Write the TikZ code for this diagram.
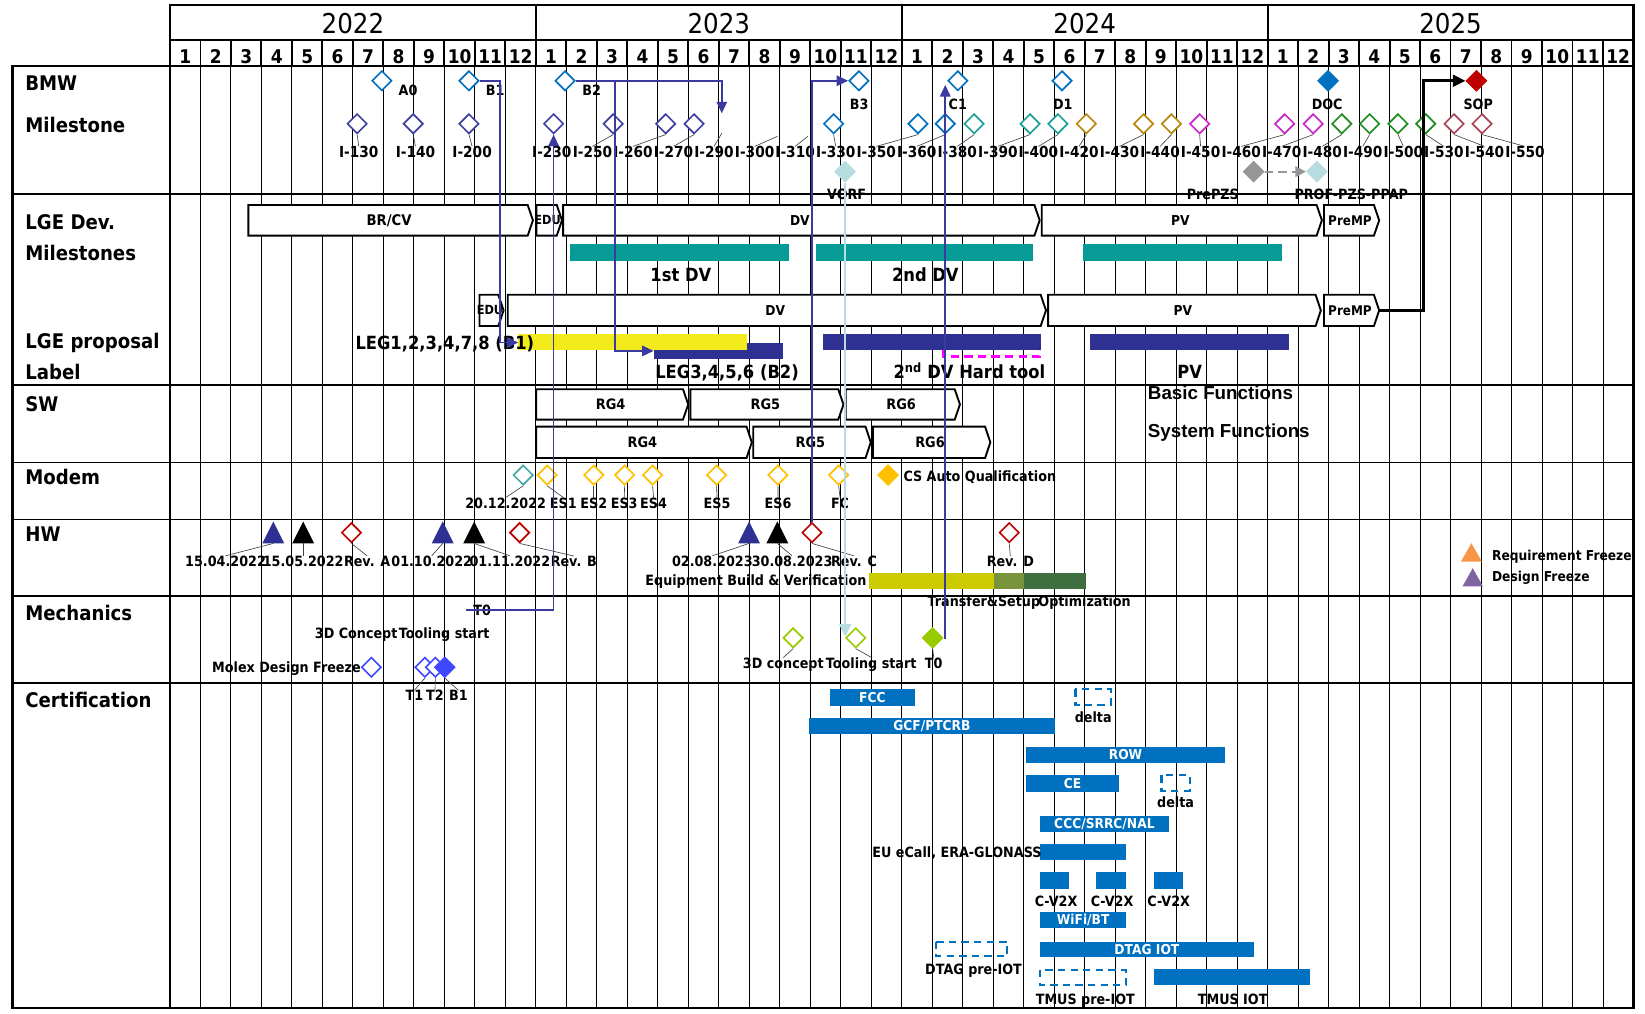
\documentclass[tikz,border=0pt]{standalone}
\usepackage{fontspec}
\setmainfont{DejaVu Sans}[FakeStretch=0.9]
\newfontfamily\arialb{Liberation Sans}
\usetikzlibrary{shapes.geometric,arrows.meta}
\newcommand\fs[1]{\fontsize{#1}{#1}\selectfont}
\definecolor{plc}{RGB}{58,58,160}
\definecolor{navyb}{RGB}{46,49,146}
\definecolor{msblue}{RGB}{0,112,192}
\definecolor{mspur}{RGB}{64,64,160}
\definecolor{msteal}{RGB}{26,160,150}
\definecolor{msgold}{RGB}{184,134,11}
\definecolor{msmag}{RGB}{200,40,200}
\definecolor{msgreen}{RGB}{30,140,30}
\definecolor{msrose}{RGB}{170,70,90}
\definecolor{tealbar}{RGB}{6,156,149}
\definecolor{ylw}{RGB}{242,234,26}
\definecolor{mdteal}{RGB}{75,168,168}
\definecolor{amber}{RGB}{255,192,0}
\definecolor{dred}{RGB}{192,0,0}
\definecolor{olivey}{RGB}{204,204,0}
\definecolor{oliveg}{RGB}{119,147,60}
\definecolor{dgreen}{RGB}{63,111,63}
\definecolor{orng}{RGB}{247,150,70}
\definecolor{lpur}{RGB}{128,100,162}
\definecolor{mechb}{RGB}{64,72,255}
\definecolor{lgreen}{RGB}{153,204,0}
\definecolor{lblue}{RGB}{183,221,224}
\definecolor{gry}{RGB}{150,150,150}
\definecolor{mag}{RGB}{255,0,255}
\definecolor{certb}{RGB}{0,112,192}
\tikzset{
 gridl/.style={line width=0.9pt},
 hdrl/.style={line width=1.8pt},
 rowl/.style={line width=1.5pt},
 outl/.style={line width=2.2pt},
 yr/.style={font=\fs{26}, anchor=base, inner sep=0pt},
 mon/.style={font=\fs{18}\bfseries, anchor=base, inner sep=0pt},
 cat/.style={font=\fs{19.2}\bfseries, anchor=base west, inner sep=0pt},
 lab/.style={font=\fs{13.5}\bfseries, anchor=base, inner sep=0pt},
 labw/.style={lab, anchor=base west},
 labe/.style={lab, anchor=base east},
 ilab/.style={font=\fs{14.5}\bfseries, anchor=base, inner sep=0pt},
 mid/.style={font=\fs{17.3}\bfseries, anchor=base, inner sep=0pt},
 sysf/.style={font=\arialb\bfseries\fs{17.9}, anchor=base west, inner sep=0pt},
 dm/.style={diamond, draw=#1, line width=1.6pt, fill=white, minimum width=19pt, minimum height=19pt, inner sep=0pt},
 dmf/.style={diamond, draw=#1, fill=#1, line width=0.8pt, minimum width=20pt, minimum height=20pt, inner sep=0pt},
 leader/.style={line width=0.6pt, black!75},
 chevst/.style={line width=1.8pt, fill=white, line join=miter},
 ctext/.style={font=\fs{13}\bfseries, text=white, inner sep=0pt},
 cdash/.style={draw=certb, line width=2.2pt, dash pattern=on 7pt off 5pt},
 pline/.style={line width=1.6pt, draw=plc, -{Triangle[length=11pt,width=10pt]}},
 lbline/.style={line width=2.4pt, draw=lblue, -{Triangle[length=12pt,width=11pt]}},
 bline/.style={line width=2.8pt, draw=black, -{Triangle[length=12pt,width=11pt]}},
 gline/.style={line width=2pt, draw=gry, dash pattern=on 8pt off 5pt, -{Triangle[length=10pt,width=10pt]}},
}
\newcommand\chev[7]{%
 \draw[chevst] (#1,#3) -- ({#2-5},#3) -- (#2,{(#3+#4)/2}) -- ({#2-5},#4) -- (#1,#4) -- cycle;
 \node[font=\fs{#7}\bfseries, inner sep=0pt] (#5) at ({(#1+#2-3)/2},{(#3+#4)/2}) {#6};}
\newcommand\cbar[6]{%
 \fill[certb] (#1,#3) rectangle (#2,#4);
 \node[ctext] (#5) at ({(#1+#2)/2},{(#3+#4)/2}) {#6};}
\newcommand\tri[4]{%
 \fill[#1] ({#2-10.5},#3) -- ({#2+10.5},#3) -- (#2,{#3-21}) -- cycle;
 \coordinate (#4) at (#2,#3);}
\begin{document}
\begin{tikzpicture}[x=1pt,y=-1pt]
\useasboundingbox (0,0) rectangle (1568,966);
\fill[white] (0,0) rectangle (1568,966);
% ---------- grid ----------
\foreach \m in {1,...,47} \draw[gridl] ({162+\m*29.0625},63) -- ({162+\m*29.0625},961);
\foreach \m in {1,...,47} \draw[hdrl] ({162+\m*29.0625},38) -- ({162+\m*29.0625},63);
\foreach \k in {1,2,3} \draw[hdrl] ({162+\k*348.75},5) -- ({162+\k*348.75},38);
\draw[outl] (162,5) rectangle (1557,63);
\draw[hdrl] (162,38) -- (1557,38);
\foreach \k/\yy in {0/2022,1/2023,2/2024,3/2025} \node[yr] (yr\yy) at ({162+\k*348.75+174.4},31.8) {\yy};
\foreach \m in {0,...,47} {\pgfmathtruncatemacro\mm{mod(\m,12)+1}\node[mon] (mo\m) at ({162+(\m+0.5)*29.0625},60.4) {\mm};}
\foreach \yy in {185,367,441,495,568,651} \draw[rowl] (12,\yy) -- (1557,\yy);
\draw[outl] (12,63) rectangle (1557,961);
\draw[outl] (162,63) -- (162,961);
% ---------- category labels ----------
\node[cat] (cbmw) at (24,85.8) {BMW};
\node[cat] (cms) at (24,126.5) {Milestone};
\node[cat] (clge) at (24,218.5) {LGE Dev.};
\node[cat] (clgem) at (24,247.9) {Milestones};
\node[cat] (clgep) at (24,332) {LGE proposal};
\node[cat] (clab) at (24,361.6) {Label};
\node[cat] (csw) at (24,392.4) {SW};
\node[cat] (cmod) at (24,461.4) {Modem};
\node[cat] (chw) at (24,516) {HW};
\node[cat] (cmech) at (24,591) {Mechanics};
\node[cat] (ccert) at (24,674) {Certification};
% ---------- BMW milestones ----------
\node[dm=msblue] (A0) at (364,77) {};
\node[dm=msblue] (B1) at (447,77) {};
\node[dm=msblue] (B2) at (538.6,77) {};
\node[dm=msblue] (B3) at (818.7,77) {};
\node[dm=msblue] (C1) at (913,77) {};
\node[dm=msblue] (D1) at (1012.3,77) {};
\node[dmf=msblue] (DOC) at (1265.9,77) {};
\node[dmf=dred] (SOP) at (1407.3,77) {};
\node[lab] (tA0) at (389,91) {A0};
\node[lab] (tB1) at (472,91) {B1};
\node[lab] (tB2) at (564,91) {B2};
\node[lab] (tB3) at (819,104.5) {B3};
\node[lab] (tC1) at (913,104.5) {C1};
\node[lab] (tD1) at (1013,104.5) {D1};
\node[lab] (tDOC) at (1265,104.5) {DOC};
\node[lab] (tSOP) at (1409,104.5) {SOP};
\foreach \n/\dx/\lx/\cl in {130/340.4/342/mspur, 140/393.9/396/mspur, 200/447/450/mspur,
  230/527.7/526/mspur, 250/584.5/564.7/mspur, 260/634.5/603.3/mspur, 270/661.6/642/mspur,
  330/794.6/796.6/msblue, 350/875/835.2/msblue, 360/901/873.9/msblue,
  380/928.5/912.5/msteal, 390/981.8/951.2/msteal, 400/1008.4/989.8/msteal,
  420/1035.5/1028.5/msgold, 430/1090/1067.1/msgold, 440/1116.6/1105.8/msgold,
  450/1143.5/1144.4/msmag, 460/1224.5/1183.1/msmag, 470/1251.7/1221.7/msmag,
  480/1279/1260.4/msgreen, 490/1305.5/1299/msgreen, 500/1332.5/1337.7/msgreen, 530/1359/1376.3/msgreen,
  540/1386/1415/msrose, 550/1412.7/1453.6/msrose}
{\node[dm=\cl] (i\n) at (\dx,118) {};
 \node[ilab] (l\n) at (\lx,150.5) {I-\n};
 \draw[leader] (l\n.north) -- (i\n.south);}
\coordinate (i290) at (688,127);
\coordinate (i300) at (741,130);
\coordinate (i310) at (770,130);
\foreach \n/\lx in {290/680.6, 300/719.3, 310/757.9}
{\node[ilab] (l\n) at (\lx,150.5) {I-\n};
 \draw[leader] (l\n.north) -- (i\n);}
\node[dmf=lblue] (vorf) at (805.6,163.6) {};
\node[lab] (tvorf) at (807,190) {VORF};
\node[dmf=gry] (gdm) at (1195,163.6) {};
\node[dmf=lblue] (lbd) at (1255.2,163.6) {};
\node[lab] (tprepzs) at (1156,190) {PrePZS};
\node[lab] (tprof) at (1288,190) {PROF-PZS-PPAP};
% ---------- LGE Dev milestones ----------
\chev{236.7}{508}{195.4}{224.6}{brcv}{BR/CV}{14}
\chev{511.3}{535.7}{195.4}{224.6}{edua}{EDU}{12}
\chev{536.8}{991}{195.4}{224.6}{dva}{DV}{13}
\chev{993}{1260}{195.4}{224.6}{pva}{PV}{13}
\chev{1262}{1314.6}{195.4}{224.6}{prempa}{PreMP}{12.7}
\fill[tealbar] (543.5,232.6) rectangle (752,248.5);
\fill[tealbar] (778,232.6) rectangle (985,248.5);
\fill[tealbar] (1032.6,232.6) rectangle (1221.8,248.5);
\node[mid] (t1dv) at (649,268.5) {1st DV};
\node[mid] (t2dv) at (882,268.5) {2nd DV};
\chev{457}{480}{281}{310.7}{edub}{EDU}{12}
\chev{484}{997}{281}{310.7}{dvb}{DV}{13}
\chev{999}{1259}{281}{310.7}{pvb}{PV}{13}
\chev{1262}{1314.6}{281}{310.7}{prempb}{PreMP}{12.7}
\coordinate (premp2tip) at (1314.6,295.9);
% ---------- LGE proposal ----------
\node[fill=navyb, minimum width=123pt, minimum height=15pt, inner sep=0pt, anchor=west] (leg3bar) at (623,334.5) {};
\fill[ylw] (494,318.4) rectangle (712,334);
\fill[navyb] (784.6,318.4) rectangle (992,334);
\fill[navyb] (1039,318.4) rectangle (1228.8,334);
\draw[mag, line width=2.4pt, dash pattern=on 8pt off 5pt] (899,334) -- (899,340) -- (991,340) -- (991,334);
\node[mid] (tleg1) at (424,333.6) {LEG1,2,3,4,7,8 (B1)};
\node[mid] (tleg3) at (693,361) {LEG3,4,5,6 (B2)};
\node[mid] (thard) at (924,361) {2\textsuperscript{nd} DV Hard tool};
\node[mid] (tpv) at (1134,361) {PV};
% ---------- SW ----------
\chev{511}{656}{371}{400}{rg4a}{RG4}{13.7}
\chev{658}{804}{371}{400}{rg5a}{RG5}{13.7}
\chev{806}{915}{371}{400}{rg6a}{RG6}{13.7}
\chev{511}{716.6}{406.7}{436.6}{rg4b}{RG4}{13.7}
\chev{718}{830}{406.7}{436.6}{rg5b}{RG5}{13.7}
\chev{832}{944}{406.7}{436.6}{rg6b}{RG6}{13.7}
\node[sysf] (tbasic) at (1094,381) {Basic Functions};
\node[sysf] (tsys) at (1094,416.8) {System Functions};
% ---------- Modem ----------
\node[dm=mdteal] (md0) at (498.7,452.8) {};
\foreach \k/\dx in {1/521.6, 2/566, 3/595.4, 4/622, 5/683, 6/741.5, 7/799.4}
  \node[dm=amber] (md\k) at (\dx,452.8) {};
\node[dmf=amber] (md8) at (846.5,452.8) {};
\foreach \k/\lx/\tx in {0/482/20.12.2022, 1/537/ES1, 2/566/ES2, 3/595/ES3, 4/623/ES4, 5/683.5/ES5, 6/741.6/ES6, 7/800.7/FC}
 {\node[lab] (mdl\k) at (\lx,484.5) {\tx};
  \draw[leader] (mdl\k.north) -- (md\k.south);}
\node[labw] (tcsa) at (861,459) {CS Auto Qualification};
% ---------- HW ----------
\tri{navyb}{260.5}{518}{h1}
\tri{black}{289}{518}{h2}
\tri{navyb}{422}{518}{h4}
\tri{black}{452}{518}{h5}
\tri{navyb}{714}{518}{h7}
\tri{black}{741}{518}{h8}
\node[dm=dred] (revA) at (335,507.7) {};
\node[dm=dred] (revB) at (495.3,507.7) {};
\node[dm=dred] (revC) at (774,507.7) {};
\node[dm=dred] (revD) at (962,507.7) {};
\foreach \nm/\lx/\tx/\tg in {a/215/15.04.2022/h1, b/289/15.05.2022/h2, c/350/Rev. A/revA.south, d/411.5/01.10.2022/h4,
   e/486/01.11.2022/h5, f/547/Rev. B/revB.south, g/679/02.08.2023/h7, h/755/30.08.2023/h8, i/814/Rev. C/revC.south, j/963/Rev. D/revD.south}
 {\node[lab] (hl\nm) at (\lx,540) {\tx};
  \draw[leader] (hl\nm.north) -- (\tg);}
\node[labe] (tequip) at (826,558) {Equipment Build \& Verification};
\fill[olivey] (828.6,546) rectangle (947,561);
\fill[oliveg] (947,546) rectangle (976,561);
\fill[dgreen] (976,546) rectangle (1035,561);
\node[labw] (ttrans) at (884,578) {Transfer\&Setup};
\node[labw] (topt) at (989.6,578) {Optimization};
\fill[orng] (1392.5,535.4) -- (1412.5,535.4) -- (1402.5,517.8) -- cycle;
\fill[lpur] (1394,559) -- (1413.6,559) -- (1403.8,541.6) -- cycle;
\node[labw, font=\fs{13}\bfseries] (treq) at (1422,534) {Requirement Freeze};
\node[labw, font=\fs{13}\bfseries] (tdes) at (1422,554) {Design Freeze};
% ---------- Mechanics ----------
\node[lab] (tt0a) at (459.7,587) {T0};
\coordinate (t0a) at (444,581.5);
\node[labw] (t3dc) at (300,609) {3D Concept};
\node[labw] (ttsa) at (380,609) {Tooling start};
\node[labe] (tmolex) at (344,641) {Molex Design Freeze};
\node[dm=mechb] (molex) at (354,636) {};
\node[dm=mechb] (mt1) at (405,636) {};
\node[dm=mechb] (mt2) at (415,636) {};
\node[dmf=mechb] (mb1) at (424,636) {};
\node[lab] (tt1) at (395,668) {T1};
\node[lab] (tt2) at (414.6,668) {T2};
\node[lab] (tb1m) at (437,668) {B1};
\draw[leader] (tt1.north) -- (mt1.south);
\draw[leader] (tt2.north) -- (mt2.south);
\draw[leader] (tb1m.north) -- (mb1.south);
\node[dm=lgreen] (m3d) at (756,608) {};
\node[dm=lgreen] (mts) at (815.7,608) {};
\node[dmf=lgreen] (t0m) at (889,608) {};
\node[labw] (t3dcb) at (708,637) {3D concept};
\node[labw] (ttsb) at (787,637) {Tooling start};
\node[lab] (tt0b) at (890,637) {T0};
\draw[leader] (t3dcb.north) -- (m3d.south);
\draw[leader] (ttsb.north) -- (mts.south);
\draw[leader] (tt0b.north) -- (t0m.south);
% ---------- Certification ----------
\cbar{791}{872}{657}{672.7}{fcc}{FCC}
\cbar{771}{1005.6}{684.6}{700}{gcf}{GCF/PTCRB}
\cbar{978}{1167.7}{712}{727}{row}{ROW}
\cbar{978}{1066.8}{739}{754.6}{ce}{CE}
\cbar{991.4}{1114}{777.5}{792.7}{ccc}{CCC/SRRC/NAL}
\fill[certb] (991.4,804.5) rectangle (1073.5,819.7);
\fill[certb] (991.4,831.3) rectangle (1018.6,847);
\fill[certb] (1044.8,831.3) rectangle (1073.5,847);
\fill[certb] (1099.6,831.3) rectangle (1127.5,847);
\cbar{991.4}{1073.5}{869.5}{885}{wifi}{WiFi/BT}
\cbar{991.4}{1195}{897.6}{912}{dtag}{DTAG IOT}
\fill[certb] (1099.6,923.6) rectangle (1248.3,939);
\draw[cdash] (1025,657) rectangle (1058.7,672);
\draw[cdash] (1107,739) rectangle (1134,753.7);
\draw[cdash] (892,897.6) rectangle (960,911.3);
\draw[cdash] (991.4,924.6) rectangle (1073,939);
\node[lab] (tdelta1) at (1042,689) {delta};
\node[lab] (tdelta2) at (1120.6,770) {delta};
\node[labw] (tecall) at (831.4,817.5) {EU eCall, ERA-GLONASS};
\node[lab] (tcv1) at (1006.6,864) {C-V2X};
\node[lab] (tcv2) at (1060,864) {C-V2X};
\node[lab] (tcv3) at (1114,864) {C-V2X};
\node[lab] (tdtagpre) at (928,929) {DTAG pre-IOT};
\node[lab] (ttmuspre) at (1034.5,957) {TMUS pre-IOT};
\node[lab] (ttmus) at (1175,957) {TMUS IOT};
% ---------- connectors ----------
\coordinate (leg1in) at (494,326.5);
\coordinate (i290t) at (688,108);
\coordinate (b2br) at (586,77);
\coordinate (c1in) at (901,81);
\coordinate (tsin) at (805.6,607);
\draw[lbline] (vorf.south) -- (tsin);
\draw[gline] (gdm.east) -- (lbd.west);
\draw[bline] (premp2tip) -- ++(42,0) |- (SOP.west);
\draw[pline] (B1.east) -- ++(19,0) |- (leg1in);
\draw[pline] (t0a) -| (i230.south);
\draw[pline] (B2.east) -| (i290t);
\draw[pline] (b2br) |- (leg3bar.west);
\draw[pline] (revC.north) |- (B3.west);
\draw[pline] (t0m.east) -| (c1in);
\end{tikzpicture}
\end{document}
